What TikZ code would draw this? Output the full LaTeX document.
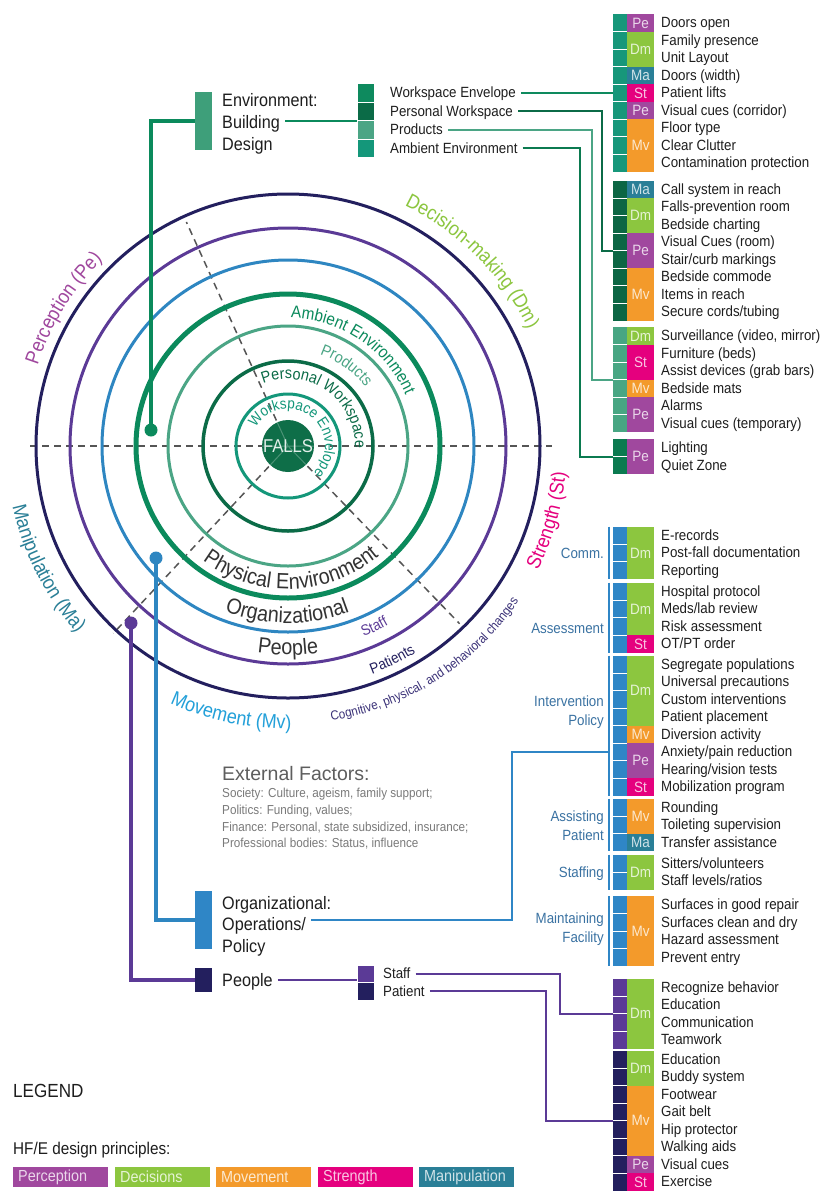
\documentclass[tikz,border=0pt]{standalone}
\usepackage{fontspec}
\setmainfont{Liberation Sans}[FakeStretch=0.9]
\newfontfamily\extfont{Liberation Sans}
\usetikzlibrary{decorations.text,calc}

\definecolor{cNavy}{HTML}{231F5E}
\definecolor{cPurple}{HTML}{5B3A96}
\definecolor{cBlue}{HTML}{2E86C1}
\definecolor{cAmb}{HTML}{0B8A5C}
\definecolor{cProd}{HTML}{4BA585}
\definecolor{cPers}{HTML}{0B6B47}
\definecolor{cEnv}{HTML}{14977A}
\definecolor{cFalls}{HTML}{0E6E48}
\definecolor{cPe}{HTML}{A0489E}
\definecolor{cDm}{HTML}{8CC63F}
\definecolor{cMv}{HTML}{F39A2B}
\definecolor{cSt}{HTML}{E5007E}
\definecolor{cMa}{HTML}{2A7F97}
\definecolor{cMove}{HTML}{23A0D9}
\definecolor{cBldg}{HTML}{3E9F7A}
\definecolor{cOrgBar}{HTML}{2F86C6}
\definecolor{cLbl}{HTML}{3A72A2}
\definecolor{cG1}{HTML}{17977A}
\definecolor{cG2}{HTML}{0C6644}
\definecolor{cG3}{HTML}{48A683}
\definecolor{cG4}{HTML}{0B7A50}
\definecolor{cSqWE}{HTML}{0E8A5E}
\definecolor{cTxt}{HTML}{1E1E1E}
\definecolor{cDark}{HTML}{333333}
\definecolor{cDash}{HTML}{555555}
\definecolor{cExt}{HTML}{5E5E5E}
\definecolor{cExtB}{HTML}{7A7A7A}
\definecolor{cCog}{HTML}{3B3278}

\newcommand\grp[5]{%
  \def\gtop{#2}\def\gh{#3}%
  \foreach \txt [count=\i] in {#5}{%
    \pgfmathsetmacro\ya{#2+(\i-1)*#3}%
    \pgfmathsetmacro\yb{#2+\i*#3}%
    \pgfmathsetmacro\yt{#2+(\i-0.5)*#3+5.2}%
    \fill[#4] (613,\ya) rectangle (627,\yb);
    \ifnum\i>1 \draw[white,line width=0.8pt] (613,\ya) -- (627,\ya);\fi
    \node[item] (#1-\i) at (661,\yt) {\txt};
  }%
}
\newcommand\code[4]{%
  \fill[c#4] (627,{\gtop+(#2-1)*\gh}) rectangle (654,{\gtop+(#2-1+#3)*\gh});
  \node[codetxt,text=c#4!22!white] (#1) at (640.5,{\gtop+(#2-1+#3/2)*\gh+5.4}) {#4};
}
\newcommand\cwtext[5]{%
  \path[decorate,decoration={text along path,text align=center,text={|#4|#5}}]
    ({#1+#3}:#2) arc[start angle={#1+#3}, end angle={#1-#3}, radius=#2];}
\newcommand\ccwtext[5]{%
  \path[decorate,decoration={text along path,text align=center,text={|#4|#5}}]
    ({#1-#3}:#2) arc[start angle={#1-#3}, end angle={#1+#3}, radius=#2];}

\begin{document}
\begin{tikzpicture}[x=1pt,y=-1pt,
  item/.style={anchor=base west,inner sep=0pt,font=\fontsize{14.8}{16}\selectfont,text=cTxt},
  codetxt/.style={anchor=base,inner sep=0pt,font=\fontsize{15}{16}\selectfont},
  cat/.style={anchor=base west,inner sep=0pt,font=\fontsize{18}{20}\selectfont,text=cTxt},
  glabel/.style={anchor=base east,inner sep=0pt,font=\fontsize{14.8}{16}\selectfont,text=cLbl},
  dashln/.style={draw=cDash,line width=1.5pt,dash pattern=on 7pt off 5pt},
  bar/.style={minimum width=17pt,inner sep=0pt},
  sqr/.style={minimum width=17pt,inner sep=0pt,draw=white,line width=0.6pt},
  dot/.style={circle,minimum size=13pt,inner sep=0pt},
  lgbox/.style={anchor=north west,text width=85pt,inner xsep=5pt,inner ysep=0pt,minimum height=20pt,font=\fontsize{16}{17}\selectfont},
  conn/.style={line width=2pt}]
\useasboundingbox (0,0) rectangle (830,1200);
\fill[white] (0,0) rectangle (830,1200);

% ---------- concentric model ----------
\begin{scope}[shift={(288,446)},y=1pt]
  \draw[dashln] (-258,0) -- (264,0);
  \draw[dashln] (114.4:28) -- (114.4:246);
  \draw[dashln] (227:28) -- (227:256);
  \draw[dashln] (314:28) -- (314:247);
  \draw[cNavy,line width=3pt] (0,0) circle[radius=252];
  \draw[cPurple,line width=3pt] (0,0) circle[radius=218];
  \draw[cBlue,line width=3pt] (0,0) circle[radius=186];
  \draw[cAmb,line width=5pt] (0,0) circle[radius=152];
  \draw[cProd,line width=3pt] (0,0) circle[radius=120];
  \draw[cPers,line width=3.5pt] (0,0) circle[radius=85];
  \draw[cEnv,line width=3pt] (0,0) circle[radius=52];
  \fill[cFalls] (0,0) circle[radius=26];
  \draw[white,opacity=0.25,line width=1pt] (-26,0) -- (26,0) (114.4:26) -- (0,0) -- (227:26) (0,0) -- (314:26);
  \node[text=white!88!cFalls,font=\fontsize{18.5}{18.5}\selectfont] (falls) at (0,0) {FALLS};
  \cwtext{56}{128}{75}{\fontsize{17}{17}\selectfont\color{cAmb}}{Ambient Environment}
  \cwtext{54}{97}{70}{\fontsize{16}{16}\selectfont\color{cProd}}{Products}
  \cwtext{55}{67}{110}{\fontsize{16}{16}\selectfont\color{cPers}}{Personal Workspace}
  \cwtext{52}{37}{150}{\fontsize{15}{15}\selectfont\color{cEnv}}{Workspace Envelope}
  \ccwtext{-88.5}{143}{80}{\fontsize{22}{22}\selectfont\color{cDark}}{Physical Environment}
  \ccwtext{-90.3}{177}{60}{\fontsize{22}{22}\selectfont\color{cDark}}{Organizational}
  \ccwtext{-90}{209}{40}{\fontsize{22}{22}\selectfont\color{cDark}}{People}
  \ccwtext{-64.5}{205}{20}{\fontsize{15}{15}\selectfont\color{cPurple}}{Staff}
  \ccwtext{-64}{243}{25}{\fontsize{15}{15}\selectfont\color{cNavy}}{Patients}
  \ccwtext{-57.5}{278}{40}{\fontsize{13}{13}\selectfont\color{cCog}}{Cognitive, physical, and behavioral changes}
  \cwtext{148.5}{263}{30}{\fontsize{20}{20}\selectfont\color{cPe}}{Perception (Pe)}
  \cwtext{45}{267}{35}{\fontsize{20}{20}\selectfont\color{cDm}}{Decision-making (Dm)}
  \ccwtext{-16}{279}{25}{\fontsize{20}{20}\selectfont\color{cSt}}{Strength (St)}
  \ccwtext{207}{282}{30}{\fontsize{20}{20}\selectfont\color{cMa}}{Manipulation (Ma)}
  \ccwtext{258}{283}{25}{\fontsize{20}{20}\selectfont\color{cMove}}{Movement (Mv)}
\end{scope}

% ---------- category bars and titles ----------
\node[bar,fill=cBldg,minimum height=58pt] (bldgBar) at (203.5,121) {};
\node[cat] (env1) at (222,106.5) {Environment:};
\node[cat] (env2) at (222,128.5) {Building};
\node[cat] (env3) at (222,150.5) {Design};

\node[bar,fill=cOrgBar,minimum height=58pt] (orgBar) at (203.5,920) {};
\node[cat] (org1) at (222,909.5) {Organizational:};
\node[cat] (org2) at (222,930.5) {Operations/};
\node[cat] (org3) at (222,952.5) {Policy};

\node[bar,fill=cNavy,minimum height=24pt] (pplBar) at (203.5,980) {};
\node[cat] (pplT) at (222,986.5) {People};

% dots and main connectors
\node[dot,fill=cAmb] (dotG) at (151,430) {};
\node[dot,fill=cBlue] (dotB) at (156,558) {};
\node[dot,fill=cPurple] (dotP) at (131,623) {};
\draw[cAmb,line width=4pt] (dotG.center) |- (bldgBar.west);
\draw[cBlue,line width=4pt] (dotB.center) |- (orgBar.west);
\draw[cPurple,line width=3.5pt] (dotP.center) |- (pplBar.west);

% ---------- environment sub items ----------
\node[sqr,fill=cSqWE,minimum height=18.5pt] (sqWE) at (365.5,92.75) {};
\node[sqr,fill=cPers,minimum height=18.5pt] (sqPW) at (365.5,111.25) {};
\node[sqr,fill=cProd,minimum height=18.5pt] (sqPr) at (365.5,129.75) {};
\node[sqr,fill=cEnv,minimum height=18.5pt] (sqAE) at (365.5,148.25) {};
\node[item] (we) at (390,97.95) {Workspace Envelope};
\node[item] (pw) at (390,116.45) {Personal Workspace};
\node[item] (pr) at (390,134.95) {Products};
\node[item] (ae) at (390,153.45) {Ambient Environment};
\draw[cAmb,conn] ($(env2.east |- sqPW.south west)+(5,0)$) -- (sqPW.south west);

\coordinate (g1in) at (613,92.75);
\coordinate (g2in) at (613,250.5);
\coordinate (g3in) at (613,379.5);
\coordinate (g4in) at (613,456.5);
\draw[cSqWE,conn] ($(we.east |- sqWE)+(5,0)$) -- (g1in);
\draw[cPers,conn] ($(pw.east |- sqPW)+(5,0)$) -| ($(g2in)+(-11,0)$) -- (g2in);
\draw[cProd,conn] ($(pr.east |- sqPr)+(5,0)$) -| ($(g3in)+(-21,0)$) -- (g3in);
\draw[cG4,conn] ($(ae.east |- sqAE)+(5,0)$) -| ($(g4in)+(-33,0)$) -- (g4in);

% ---------- environment groups ----------
\grp{g1}{14}{17.5}{cG1}{Doors open,Family presence,Unit Layout,Doors (width),Patient lifts,Visual cues (corridor),Floor type,Clear Clutter,Contamination protection}
\code{g1a}{1}{1}{Pe}\code{g1b}{2}{2}{Dm}\code{g1c}{4}{1}{Ma}\code{g1d}{5}{1}{St}\code{g1e}{6}{1}{Pe}\code{g1f}{7}{3}{Mv}
\grp{g2}{180.5}{17.5}{cG2}{Call system in reach,Falls-prevention room,Bedside charting,Visual Cues (room),Stair/curb markings,Bedside commode,Items in reach,Secure cords/tubing}
\code{g2a}{1}{1}{Ma}\code{g2b}{2}{2}{Dm}\code{g2c}{4}{2}{Pe}\code{g2d}{6}{3}{Mv}
\grp{g3}{327}{17.5}{cG3}{{Surveillance (video, mirror)},Furniture (beds),Assist devices (grab bars),Bedside mats,Alarms,Visual cues (temporary)}
\code{g3a}{1}{1}{Dm}\code{g3b}{2}{2}{St}\code{g3c}{4}{1}{Mv}\code{g3d}{5}{2}{Pe}
\grp{g4}{439}{17.5}{cG4}{Lighting,Quiet Zone}
\code{g4a}{1}{2}{Pe}

% ---------- organizational groups ----------
\grp{o1}{526.5}{17.5}{cOrgBar}{E-records,Post-fall documentation,Reporting}
\code{o1a}{1}{3}{Dm}
\grp{o2}{582.5}{17.5}{cOrgBar}{Hospital protocol,Meds/lab review,Risk assessment,OT/PT order}
\code{o2a}{1}{3}{Dm}\code{o2b}{4}{1}{St}
\grp{o3}{655.5}{17.5}{cOrgBar}{Segregate populations,Universal precautions,Custom interventions,Patient placement,Diversion activity,Anxiety/pain reduction,Hearing/vision tests,Mobilization program}
\code{o3a}{1}{4}{Dm}\code{o3b}{5}{1}{Mv}\code{o3c}{6}{2}{Pe}\code{o3d}{8}{1}{St}
\grp{o4}{798.5}{17.5}{cOrgBar}{Rounding,Toileting supervision,Transfer assistance}
\code{o4a}{1}{2}{Mv}\code{o4b}{3}{1}{Ma}
\grp{o5}{854.5}{17.5}{cOrgBar}{Sitters/volunteers,Staff levels/ratios}
\code{o5a}{1}{2}{Dm}
\grp{o6}{896}{17.5}{cOrgBar}{Surfaces in good repair,Surfaces clean and dry,Hazard assessment,Prevent entry}
\code{o6a}{1}{4}{Mv}
\foreach \a/\b in {526.5/579,582.5/652.5,655.5/795.5,798.5/851,854.5/889.5,896/966}
  \draw[cOrgBar,line width=1.3pt] (609,\a) -- (609,\b);
\node[glabel] (lComm) at (604,558.2) {Comm.};
\node[glabel] (lAss) at (604,633.2) {Assessment};
\node[glabel] (lInt1) at (604,706.2) {Intervention};
\node[glabel] (lInt2) at (604,725.2) {Policy};
\node[glabel] (lAsp1) at (604,821.2) {Assisting};
\node[glabel] (lAsp2) at (604,840.2) {Patient};
\node[glabel] (lStf) at (604,877.2) {Staffing};
\node[glabel] (lMnt1) at (604,923.2) {Maintaining};
\node[glabel] (lMnt2) at (604,942.2) {Facility};
\coordinate (intvIn) at (609,751.75);
\draw[cOrgBar,conn] ($(org2.east |- orgBar)+(5,0)$) -| ($(intvIn)+(-97,0)$) -- (intvIn);

% ---------- people ----------
\node[sqr,fill=cPurple,minimum height=17.5pt] (sqStaff) at (365.5,973.75) {};
\node[sqr,fill=cNavy,minimum height=17.5pt] (sqPat) at (365.5,991.25) {};
\node[item] (staffT) at (383,978.95) {Staff};
\node[item] (patT) at (383,996.45) {Patient};
\draw[cPurple,conn] ($(pplT.east |- pplBar)+(5,0)$) -- (sqStaff.west |- pplBar);
\coordinate (sgin) at (613,1013.5);
\coordinate (pgin) at (613,1120.5);
\draw[cPurple,conn] ($(staffT.east |- sqStaff)+(5,0)$) -| ($(sgin)+(-53,0)$) -- (sgin);
\draw[cPurple,conn] ($(patT.east |- sqPat)+(5,0)$) -| ($(pgin)+(-67,0)$) -- (pgin);
\grp{p1}{978.5}{17.5}{cPurple}{Recognize behavior,Education,Communication,Teamwork}
\code{p1a}{1}{4}{Dm}
\grp{p2}{1050.5}{17.5}{cNavy}{Education,Buddy system,Footwear,Gait belt,Hip protector,Walking aids,Visual cues,Exercise}
\code{p2a}{1}{2}{Dm}\code{p2b}{3}{4}{Mv}\code{p2c}{7}{1}{Pe}\code{p2d}{8}{1}{St}

% ---------- external factors ----------
\node[anchor=base west,inner sep=0pt,font=\extfont\fontsize{19.5}{20}\selectfont,text=cExt] (ext0) at (222,780) {External Factors:};
\node[anchor=base west,inner sep=0pt,font=\fontsize{13}{14}\selectfont,text=cExtB] (ext1) at (222,797.7) {Society: Culture, ageism, family support;};
\node[anchor=base west,inner sep=0pt,font=\fontsize{13}{14}\selectfont,text=cExtB] (ext2) at (222,814.7) {Politics: Funding, values;};
\node[anchor=base west,inner sep=0pt,font=\fontsize{13}{14}\selectfont,text=cExtB] (ext3) at (222,831.7) {Finance: Personal, state subsidized, insurance;};
\node[anchor=base west,inner sep=0pt,font=\fontsize{13}{14}\selectfont,text=cExtB] (ext4) at (222,847.7) {Professional bodies: Status, influence};

% ---------- legend ----------
\node[anchor=base west,inner sep=0pt,font=\fontsize{19}{20}\selectfont,text=cTxt] (legend) at (13,1097) {LEGEND};
\node[anchor=base west,inner sep=0pt,font=\fontsize{17}{18}\selectfont,text=cTxt] (hfe) at (13,1154) {HF/E design principles:};
\node[lgbox,fill=cPe,text=cPe!22!white] (lgPe) at (13,1167) {Perception};
\node[lgbox,fill=cDm,text=cDm!22!white] (lgDm) at (115,1167) {Decisions};
\node[lgbox,fill=cMv,text=cMv!22!white] (lgMv) at (216,1167) {Movement};
\node[lgbox,fill=cSt,text=cSt!22!white] (lgSt) at (318,1167) {Strength};
\node[lgbox,fill=cMa,text=cMa!22!white] (lgMa) at (419,1167) {Manipulation};
\end{tikzpicture}
\end{document}
